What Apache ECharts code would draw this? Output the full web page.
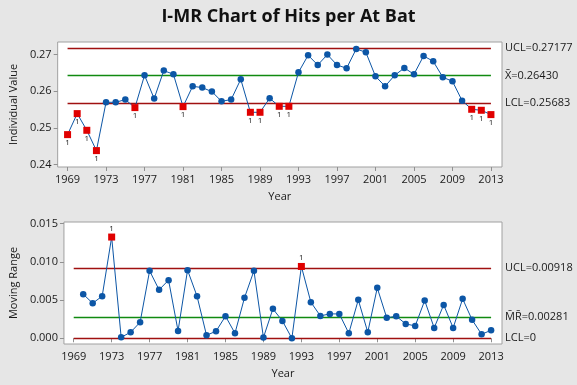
<!DOCTYPE html>
<html>
<head>
<meta charset="utf-8">
<script src="https://cdn.jsdelivr.net/npm/echarts@6/dist/echarts.min.js"></script>
<style>
html,body{margin:0;padding:0;background:#e6e6e6;}
#c{width:577px;height:385px;}
</style>
</head>
<body>
<div id="c"></div>
<script>
// ---- data ----
const years = [1969,1970,1971,1972,1973,1974,1975,1976,1977,1978,1979,1980,1981,1982,1983,1984,1985,1986,1987,1988,1989,1990,1991,1992,1993,1994,1995,1996,1997,1998,1999,2000,2001,2002,2003,2004,2005,2006,2007,2008,2009,2010,2011,2012,2013];
const individual = [0.24818,0.25391,0.24936,0.24382,0.25700,0.25700,0.25773,0.25555,0.26436,0.25800,0.26564,0.26464,0.25582,0.26136,0.26100,0.25991,0.25727,0.25773,0.26327,0.25427,0.25427,0.25809,0.25590,0.25590,0.26518,0.26982,0.26718,0.27000,0.26718,0.26627,0.27155,0.27064,0.26409,0.26136,0.26436,0.26636,0.26464,0.26964,0.26818,0.26382,0.26273,0.25745,0.25509,0.25482,0.25364];
const mrYears = years.slice(1);
const movingRange = [0.00577,0.00459,0.00551,0.01325,0.00013,0.00079,0.00210,0.00883,0.00634,0.00761,0.00096,0.00892,0.00551,0.00039,0.00092,0.00289,0.00066,0.00529,0.00883,0.00010,0.00385,0.00227,0.00000,0.00940,0.00472,0.00293,0.00319,0.00319,0.00066,0.00503,0.00079,0.00660,0.00267,0.00289,0.00188,0.00162,0.00494,0.00136,0.00437,0.00136,0.00516,0.00241,0.00052,0.00105];
const iLimits = {ucl:0.27177, center:0.26430, lcl:0.25683};
const mrLimits = {ucl:0.00918, center:0.00281, lcl:0};
const xTicks = [1969,1973,1977,1981,1985,1989,1993,1997,2001,2005,2009,2013];
const iTicks = [0.24,0.25,0.26,0.27];
const mrTicks = [0,0.005,0.010,0.015];
const title = 'I-MR Chart of Hits per At Bat';

// ---- styling ----
const FONT = 'Open Sans';
const BLUE = '#0c56a6';
const RED = '#e00000';
const LIMIT = '#a01010';
const CENTER = '#108a10';
const TXT = '#1a1a1a';

function pts(xs, ys, isOut, labelPos){
  return ys.map((v,i)=>{
    const o = isOut(v);
    return {
      value:[xs[i], v],
      symbol: o ? 'rect' : 'circle',
      symbolSize: o ? 7 : 6.5,
      itemStyle:{color: o ? RED : BLUE},
      label:{show:o, formatter:'1', position:labelPos, distance:1, fontSize:8, color:'#222', fontFamily:FONT}
    };
  });
}
function limitLine(v, color, text){
  return [
    {coord:[years[0], v], lineStyle:{color:color, width:1.3, type:'solid', opacity:1},
     label:{show:true, position:'end', formatter:text, distance:14, fontSize:11, color:TXT, fontFamily:FONT}},
    {coord:[years[years.length-1], v]}
  ];
}
const xCommon = {
  type:'value', min:1967.97, max:2014.15,
  axisLine:{show:false}, splitLine:{show:false},
  axisTick:{show:true, customValues:xTicks, length:4, lineStyle:{color:'#909090'}},
  axisLabel:{customValues:xTicks, formatter:v=>String(v), fontSize:11, color:TXT, fontFamily:FONT, margin:7},
  nameLocation:'middle', name:'Year', nameTextStyle:{fontSize:11, color:TXT, fontFamily:FONT}
};
const chart = echarts.init(document.getElementById('c'), null, {renderer:'canvas'});
chart.setOption({
  animation:false,
  backgroundColor:'#e6e6e6',
  title:{text:title, left:'center', top:3, textStyle:{fontSize:18, fontWeight:'bold', color:'#111', fontFamily:FONT}},
  grid:[
    {left:52, top:42, width:450, height:125, show:true, backgroundColor:'#ffffff', borderColor:'#a0a0a0', borderWidth:1},
    {left:52, top:222, width:450, height:122, show:true, backgroundColor:'#ffffff', borderColor:'#a0a0a0', borderWidth:1}
  ],
  xAxis:[
    Object.assign({}, xCommon, {gridIndex:0, nameGap:24}),
    Object.assign({}, xCommon, {gridIndex:1, nameGap:24})
  ],
  yAxis:[
    {gridIndex:0, type:'value', min:0.23935, max:0.27344,
     axisLine:{show:false}, splitLine:{show:false},
     axisTick:{show:true, customValues:iTicks, length:4, lineStyle:{color:'#909090'}},
     axisLabel:{customValues:iTicks, formatter:v=>v.toFixed(2), fontSize:11, color:TXT, fontFamily:FONT, margin:6},
     name:'Individual Value', nameLocation:'middle', nameGap:32, nameTextStyle:{fontSize:11, color:TXT, fontFamily:FONT}},
    {gridIndex:1, type:'value', min:-0.00075, max:0.01522,
     axisLine:{show:false}, splitLine:{show:false},
     axisTick:{show:true, customValues:mrTicks, length:4, lineStyle:{color:'#909090'}},
     axisLabel:{customValues:mrTicks, formatter:v=>v.toFixed(3), fontSize:11, color:TXT, fontFamily:FONT, margin:6},
     name:'Moving Range', nameLocation:'middle', nameGap:32, nameTextStyle:{fontSize:11, color:TXT, fontFamily:FONT}}
  ],
  series:[
    {type:'line', xAxisIndex:0, yAxisIndex:0,
     data: pts(years, individual, v => v < iLimits.lcl || v > iLimits.ucl, 'bottom'),
     lineStyle:{color:BLUE, width:1}, z:3,
     markLine:{silent:true, symbol:'none', animation:false, z:2,
       data:[
         limitLine(iLimits.ucl, LIMIT, 'UCL=' + iLimits.ucl.toFixed(5)),
         limitLine(iLimits.center, CENTER, 'X\u0304=' + iLimits.center.toFixed(5)),
         limitLine(iLimits.lcl, LIMIT, 'LCL=' + iLimits.lcl.toFixed(5))
       ]}},
    {type:'line', xAxisIndex:1, yAxisIndex:1,
     data: pts(mrYears, movingRange, v => v > mrLimits.ucl, 'top'),
     lineStyle:{color:BLUE, width:1}, z:3,
     markLine:{silent:true, symbol:'none', animation:false, z:2,
       data:[
         limitLine(mrLimits.ucl, LIMIT, 'UCL=' + mrLimits.ucl.toFixed(5)),
         limitLine(mrLimits.center, CENTER, 'M\u0304R\u0304=' + mrLimits.center.toFixed(5)),
         limitLine(mrLimits.lcl, LIMIT, 'LCL=' + mrLimits.lcl)
       ]}}
  ]
});
</script>
</body>
</html>
